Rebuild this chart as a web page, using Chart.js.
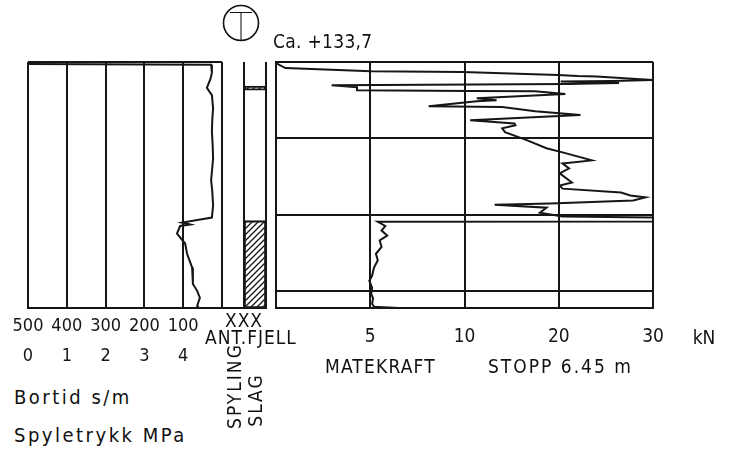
<!DOCTYPE html>
<html>
<head>
<meta charset="utf-8">
<script src="https://cdn.jsdelivr.net/npm/chart.js@4.4.0/dist/chart.umd.min.js"></script>
<style>
body { margin: 0; background: #fff; width: 732px; height: 453px; position: relative; overflow: hidden;
       font-family: 'DejaVu Sans Condensed', 'DejaVu Sans', sans-serif; color: #111; }
canvas { position: absolute; }
.t { position: absolute; white-space: nowrap; font-size: 19px; line-height: 1; transform: translate(0, -50%); }
.c { transform: translate(-50%, -50%); }
.v { transform: translate(-50%, -50%) rotate(-90deg); }
</style>
</head>
<body>
<canvas id="leftChart" width="236" height="330" style="left:0;top:50px"></canvas>
<canvas id="stripChart" width="60" height="300" style="left:214px;top:50px"></canvas>
<canvas id="kraftChart" width="474" height="330" style="left:258px;top:50px"></canvas>

<svg style="position:absolute;left:221px;top:3px" width="42" height="42">
  <circle cx="20" cy="20" r="17.5" fill="none" stroke="#111" stroke-width="1.6"/>
  <text x="20" y="37.5" text-anchor="middle" font-family="Roboto, 'DejaVu Sans', sans-serif" font-size="41" font-weight="100" fill="#111">T</text>
</svg>
<div class="t" style="left:273px;top:41px;letter-spacing:0.3px">Ca. +133,7</div>

<div class="t c" style="left:244px;top:320px;letter-spacing:1px">XXX</div>
<div class="t c" style="left:251px;top:337px;letter-spacing:1px">ANT.FJELL</div>
<div class="t v" style="left:234px;top:386px;letter-spacing:2px">SPYLING</div>
<div class="t v" style="left:255px;top:400px;letter-spacing:2px">SLAG</div>

<div class="t c" style="left:704px;top:337px">kN</div>
<div class="t" style="left:325px;top:366px;letter-spacing:1.2px">MATEKRAFT</div>
<div class="t" style="left:488px;top:366px;letter-spacing:2px">STOPP 6.45 m</div>
<div class="t" style="left:14px;top:397px;font-size:20px;letter-spacing:2.5px">Bortid s/m</div>
<div class="t" style="left:14px;top:435px;font-size:20px;letter-spacing:2.5px">Spyletrykk MPa</div>

<script>
// data
const stopDepth = 6.45;
const depthGrid = [0, 2, 4, 6];

// Bortid (s/m) mot dybde (m)
const bortidDepth = [0.05, 0.07, 0.29, 0.45, 0.68, 0.87, 1.21, 1.5, 1.82, 2.2, 2.53, 3.1, 3.4, 3.76, 4.08,
    4.21, 4.26, 4.30, 4.5, 4.76, 5.03, 5.39, 5.82, 6.0, 6.18, 6.39, 6.45];
const bortidValue = [500, 28, 26, 30, 39, 26, 23, 25, 26, 24, 23, 28, 25, 23, 26,
    103, 82, 108, 116, 95, 90, 77, 75, 64, 57, 64, 62];
const bortidTicks = [0, 100, 200, 300, 400, 500];
const spyleTicks = [0, 1, 2, 3, 4];

// Matekraft (kN) mot dybde (m)
const kraftDepth = [0.03, 0.16, 0.24, 0.26, 0.34, 0.37, 0.38, 0.47, 0.50, 0.51, 0.55, 0.58, 0.61, 0.66, 0.74,
    0.76, 0.77, 0.84, 0.95, 1.0, 1.03, 1.16, 1.18, 1.29, 1.39, 1.53, 1.61, 1.66, 1.74, 1.84,
    2.05, 2.26, 2.39, 2.58, 2.66, 2.79, 2.92, 3.16, 3.24, 3.32, 3.42, 3.5, 3.55, 3.63, 3.71,
    3.74, 3.82, 3.95, 4.05, 4.08, 4.18, 4.19, 4.3, 4.42, 4.55, 4.68, 4.85, 5.03, 5.2, 5.39,
    5.6, 5.74, 5.8, 5.92, 6.08, 6.2, 6.34, 6.42, 6.45];
const kraftValue = [0, 0.5, 5.05, 9.9, 19.9, 22.0, 24.0, 30, 25.8, 20.2, 26.4, 20.9, 2.95, 4.3, 4.3,
    10.6, 17.5, 20.7, 11.3, 13.4, 11.3, 8.1, 14.0, 17.5, 22.3, 10.6, 15.3, 15.4, 14.0, 14.3,
    16.6, 18.7, 20.7, 23.5, 20.4, 21.1, 20.1, 21.4, 20.1, 20.4, 26.6, 27.6, 29.2, 27.9, 19.1,
    13.2, 18.7, 18.0, 20.4, 30, 30, 5.4, 5.8, 5.6, 5.9, 5.5, 5.6, 5.3, 5.4, 5.2,
    5.1, 4.95, 5.0, 5.1, 5.05, 5.15, 5.1, 5.2, 6.5];
const kraftTicks = [0, 5, 10, 20, 30];

// skraverte lag (spyling / slag)
const hatchLayers = [[0.63, 0.74], [4.16, 6.45]];

const ink = '#161616';
const fontFamily = "'DejaVu Sans Condensed', 'DejaVu Sans', sans-serif";
const leftFont = { family: fontFamily, size: 18 };
const rightFont = { family: fontFamily, size: 19 };

// skala med brudd: 0-5-10-20-30 kN like store ruter
class PiecewiseScale extends Chart.LinearScale {
    getPixelForValue(value) {
        const b = kraftTicks;
        let i = 0;
        while (i < b.length - 2 && value > b[i + 1]) i++;
        const frac = (i + (value - b[i]) / (b[i + 1] - b[i])) / (b.length - 1);
        return this.getPixelForDecimal(frac);
    }
}
PiecewiseScale.id = 'piecewise';
PiecewiseScale.defaults = Chart.LinearScale.defaults;
Chart.register(PiecewiseScale);

const setTicks = list => scale => { scale.ticks = list.map(v => ({ value: v })); };

// venstre diagram: bortid
new Chart(document.getElementById('leftChart'), {
    type: 'scatter',
    data: {
        datasets: [{
            data: bortidDepth.map((d, i) => ({ x: bortidValue[i], y: d })),
            showLine: true,
            borderColor: ink,
            borderWidth: 2,
            pointRadius: 0,
            tension: 0
        }]
    },
    options: {
        responsive: false,
        animation: false,
        layout: { padding: { left: 28, right: 14, top: 12, bottom: 12 } },
        plugins: { legend: { display: false }, tooltip: { enabled: false } },
        scales: {
            x: {
                type: 'linear', position: 'bottom', min: 0, max: 500, reverse: true, weight: 0,
                afterBuildTicks: setTicks(bortidTicks),
                afterFit: s => { s.height = 30; },
                grid: { color: ink, lineWidth: 2, drawTicks: false },
                border: { display: true, color: ink, width: 2 },
                ticks: { font: leftFont, color: ink, padding: 8, maxRotation: 0, autoSkip: false,
                         callback: v => v === 0 ? '' : String(v) }
            },
            x2: {
                type: 'linear', position: 'bottom', min: 0, max: 5, weight: 1,
                afterBuildTicks: setTicks(spyleTicks),
                afterFit: s => { s.height = 30; },
                grid: { display: false, drawTicks: false },
                border: { display: false },
                ticks: { font: leftFont, color: ink, padding: 8, maxRotation: 0, autoSkip: false }
            },
            y: {
                type: 'linear', min: 0, max: stopDepth, reverse: true,
                afterBuildTicks: setTicks([0]),
                afterFit: s => { s.width = 0; },
                grid: { color: ink, lineWidth: 2, drawTicks: false },
                border: { display: false },
                ticks: { display: false }
            }
        }
    }
});

// skravur
const hatch = (() => {
    const c = document.createElement('canvas');
    c.width = 6; c.height = 6;
    const g = c.getContext('2d');
    g.strokeStyle = ink;
    g.lineWidth = 1.3;
    g.beginPath();
    g.moveTo(-1, 7); g.lineTo(7, -1);
    g.moveTo(-4, 4); g.lineTo(4, -4);
    g.moveTo(2, 10); g.lineTo(10, 2);
    g.stroke();
    return g.createPattern(c, 'repeat');
})();

// midtre kolonne: spyling / slag
new Chart(document.getElementById('stripChart'), {
    type: 'bar',
    data: {
        labels: ['', 'SPYLING SLAG'],
        datasets: hatchLayers.map(layer => ({
            data: [null, layer],
            backgroundColor: hatch,
            borderColor: ink,
            borderWidth: 1.5,
            borderSkipped: false,
            barPercentage: 1,
            categoryPercentage: 1,
            grouped: false
        }))
    },
    options: {
        responsive: false,
        animation: false,
        layout: { padding: { left: 8, right: 8, top: 12, bottom: 42 } },
        plugins: { legend: { display: false }, tooltip: { enabled: false } },
        scales: {
            x: {
                afterFit: s => { s.height = 0; },
                grid: { color: ink, lineWidth: 2, drawTicks: false, offset: true },
                border: { display: true, color: ink, width: 2 },
                ticks: { display: false }
            },
            y: { display: false, min: 0, max: stopDepth, reverse: true }
        }
    }
});

// høyre diagram: matekraft
new Chart(document.getElementById('kraftChart'), {
    type: 'scatter',
    data: {
        datasets: [{
            data: kraftDepth.map((d, i) => ({ x: kraftValue[i], y: d })),
            showLine: true,
            borderColor: ink,
            borderWidth: 2,
            pointRadius: 0,
            tension: 0
        }]
    },
    options: {
        responsive: false,
        animation: false,
        layout: { padding: { left: 8, right: 79, top: 12, bottom: 32 } },
        plugins: { legend: { display: false }, tooltip: { enabled: false } },
        scales: {
            x: {
                type: 'piecewise', position: 'bottom', min: 0, max: 30,
                afterBuildTicks: setTicks(kraftTicks),
                afterFit: s => { s.height = 40; },
                grid: { color: ink, lineWidth: 2, drawTicks: false },
                border: { display: true, color: ink, width: 2 },
                ticks: { font: rightFont, color: ink, padding: 18, maxRotation: 0, autoSkip: false,
                         callback: v => v === 0 ? '' : String(v) }
            },
            y: {
                type: 'linear', min: 0, max: stopDepth, reverse: true,
                afterBuildTicks: setTicks(depthGrid),
                afterFit: s => { s.width = 0; },
                grid: { color: ink, lineWidth: 2, drawTicks: false },
                border: { display: true, color: ink, width: 2 },
                ticks: { display: false }
            }
        }
    }
});
</script>
</body>
</html>
